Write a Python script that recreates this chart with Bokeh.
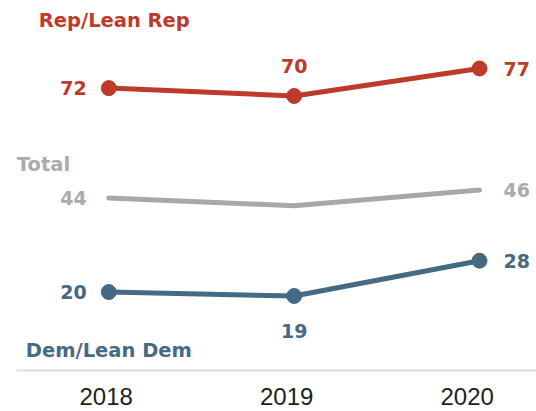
from bokeh.plotting import figure
from bokeh.models import LinearAxis, Range1d, FixedTicker
from bokeh.core.properties import value
from bokeh.embed import file_html
from bokeh.resources import INLINE

years = [2018, 2019, 2020]
year_labels = ["2018", "2019", "2020"]
rep = [72, 70, 77]
total = [44, 42, 46]
dem = [20, 19, 28]
series_names = ["Rep/Lean Rep", "Total", "Dem/Lean Dem"]

RED = "#BE3A2B"
GRAY = "#A8A8A8"
GRAY_TXT = "#ABABAB"
BLUE = "#456A86"
BOLD = value("DejaVu Sans")

p = figure(frame_width=520, frame_height=362,
           x_range=Range1d(2017.502, 2020.3075), y_range=Range1d(0, 92.3),
           output_backend="svg", toolbar_location=None,
           x_axis_location=None, y_axis_location=None,
           min_border_left=16, min_border_right=0, min_border_top=8, min_border_bottom=41)
p.outline_line_color = None
p.grid.visible = False
p.background_fill_color = "white"
p.border_fill_color = "white"

p.extra_x_ranges = {"years": Range1d(2017.503, 2020.384)}
ax = LinearAxis(x_range_name="years", ticker=FixedTicker(ticks=years),
                major_label_overrides={y: l for y, l in zip(years, year_labels)})
ax.axis_line_color = "#DCDCDC"
ax.axis_line_width = 2
ax.major_tick_line_color = None
ax.minor_tick_line_color = None
ax.major_label_text_font = "Liberation Sans"
ax.major_label_text_font_size = "24px"
ax.major_label_text_color = "#1E1E1E"
ax.major_label_standoff = 11
p.add_layout(ax, "below")


def label(x, y, txt, color, dx=0, dy=0, align="center", size="19px"):
    p.text(x=[x], y=[y], text=[txt], x_offset=dx, y_offset=dy,
           text_align=align, text_baseline="middle", text_font=BOLD,
           text_font_style="bold", text_font_size=size, text_color=color)


for vals, col, markers in [(rep, RED, True), (total, GRAY, False), (dem, BLUE, True)]:
    p.line(years, vals, line_color=col, line_width=5, line_cap="round", line_join="round")
    if markers:
        p.scatter(years, vals, size=15, color=col)

# value labels
label(years[0], rep[0], str(rep[0]), RED, dx=-22, align="right")
label(years[1], rep[1], str(rep[1]), RED, dy=-30)
label(years[2], rep[2], str(rep[2]), RED, dx=24, align="left")
label(years[0], total[0], str(total[0]), GRAY_TXT, dx=-22, align="right")
label(years[2], total[2], str(total[2]), GRAY_TXT, dx=24, align="left")
label(years[0], dem[0], str(dem[0]), BLUE, dx=-22, align="right")
label(years[1], dem[1], str(dem[1]), BLUE, dy=35)
label(years[2], dem[2], str(dem[2]), BLUE, dx=24, align="left")

# series names
label(years[0], rep[0], series_names[0], RED, dx=-70, dy=-68, align="left", size="19.5px")
label(years[0], total[0], series_names[1], GRAY_TXT, dx=-92, dy=-33, align="left", size="19.5px")
label(years[0], dem[0], series_names[2], BLUE, dx=-83, dy=58, align="left", size="19.5px")

open("out.html", "w").write(file_html(p, INLINE))
